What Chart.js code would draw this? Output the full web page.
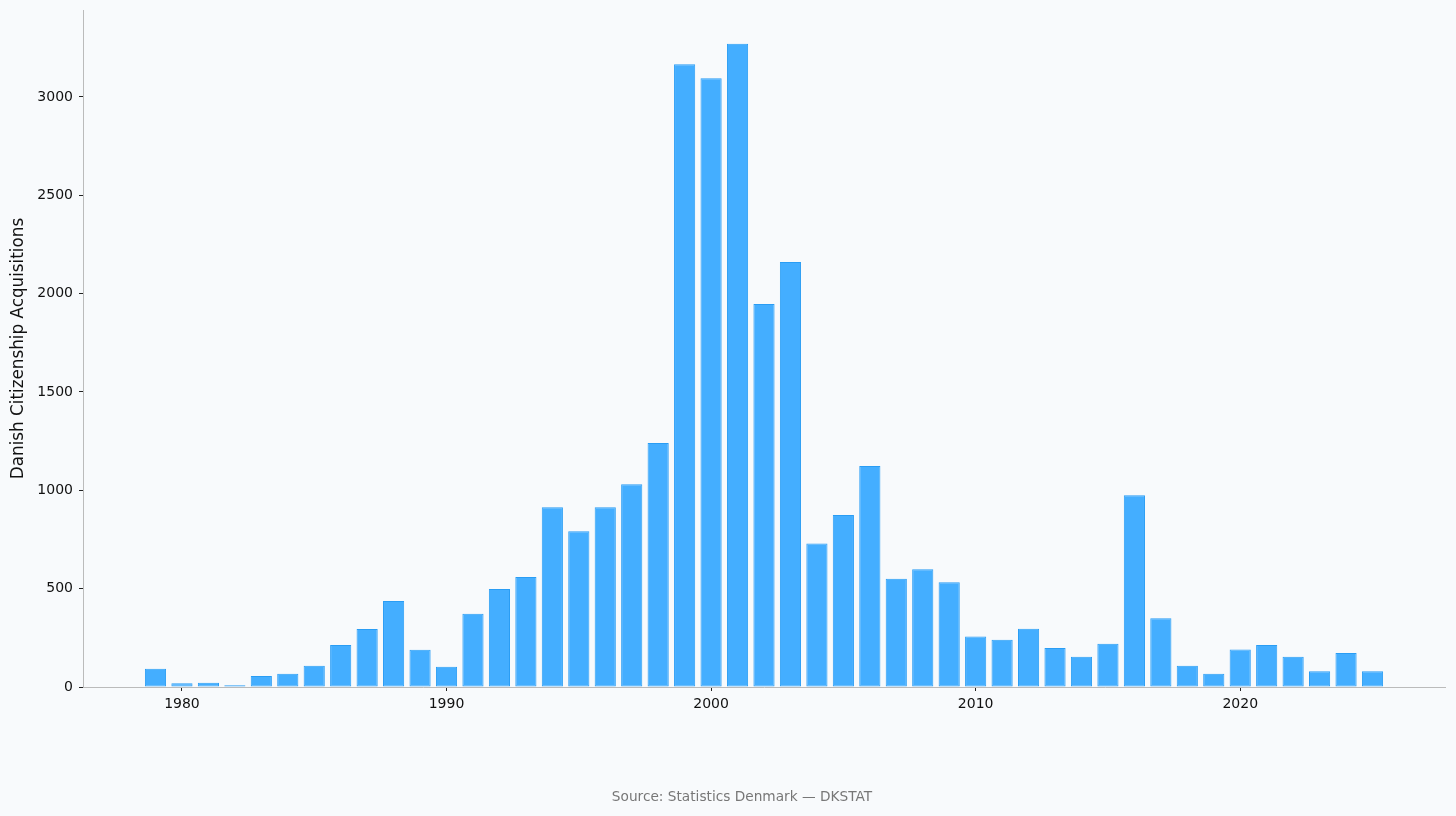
<!DOCTYPE html>
<html>
<head>
<meta charset="utf-8">
<title>Danish Citizenship Acquisitions</title>
<script src="https://cdn.jsdelivr.net/npm/chart.js@4.4.1/dist/chart.umd.min.js"></script>
<style>
  html, body { margin: 0; padding: 0; background: #f8fafc; }
  #wrap { width: 1456px; height: 816px; position: relative; }
</style>
</head>
<body>
<div id="wrap"><canvas id="citizenChart" width="1456" height="816"></canvas></div>
<script>
// data
const years = [1979, 1980, 1981, 1982, 1983, 1984, 1985, 1986, 1987, 1988,
               1989, 1990, 1991, 1992, 1993, 1994, 1995, 1996, 1997, 1998,
               1999, 2000, 2001, 2002, 2003, 2004, 2005, 2006, 2007, 2008,
               2009, 2010, 2011, 2012, 2013, 2014, 2015, 2016, 2017, 2018,
               2019, 2020, 2021, 2022, 2023, 2024, 2025];
const acquisitions = [93, 19, 22, 9, 56, 68, 108, 213, 295, 437,
                      190, 103, 372, 498, 559, 914, 792, 914, 1031, 1240,
                      3166, 3095, 3271, 1947, 2161, 730, 874, 1123, 550, 599,
                      533, 257, 240, 296, 198, 154, 220, 975, 350, 108,
                      68, 191, 213, 154, 80, 173, 80];
const xTicks = [1980, 1990, 2000, 2010, 2020];
const yTicks = [0, 500, 1000, 1500, 2000, 2500, 3000];

const font = 'DejaVu Sans';

// fill background and write the source line
const pagePlugin = {
    id: 'page',
    beforeDraw(chart) {
        const c = chart.ctx;
        c.save();
        c.fillStyle = '#f8fafc';
        c.fillRect(0, 0, chart.width, chart.height);
        c.restore();
    },
    afterDraw(chart) {
        const c = chart.ctx;
        c.save();
        c.fillStyle = '#777777';
        c.font = '13.7px "' + font + '"';
        c.textAlign = 'center';
        c.textBaseline = 'middle';
        c.fillText('Source: Statistics Denmark \u2014 DKSTAT', 742, 797);
        c.restore();
    }
};

const ctx = document.getElementById('citizenChart').getContext('2d');
const citizenChart = new Chart(ctx, {
    type: 'bar',
    data: {
        datasets: [{
            data: years.map((y, i) => ({ x: y, y: acquisitions[i] })),
            backgroundColor: '#44aeff',
            borderColor: '#2a9df4',
            borderWidth: 1,
            borderSkipped: false,
            categoryPercentage: 1.0,
            barPercentage: 0.8
        }]
    },
    options: {
        responsive: false,
        animation: false,
        layout: { padding: { top: 10, right: 11, bottom: 89, left: 0 } },
        plugins: {
            legend: { display: false },
            tooltip: { enabled: false }
        },
        scales: {
            x: {
                type: 'linear',
                offset: false,
                min: 1976.26,
                max: 2027.74,
                afterFit: s => { s.height = 40; },
                afterBuildTicks: s => { s.ticks = xTicks.map(v => ({ value: v })); },
                grid: { offset: false, drawOnChartArea: false, tickLength: 4, tickColor: '#222222' },
                border: { color: '#bbbbbb', width: 1 },
                ticks: {
                    color: '#111111',
                    font: { family: font, size: 14 },
                    padding: 5,
                    maxRotation: 0,
                    callback: v => String(v)
                }
            },
            y: {
                min: 0,
                max: 3442,
                afterFit: s => { s.width = 83; s.paddingTop = 0; s.paddingBottom = 0; },
                afterBuildTicks: s => { s.ticks = yTicks.map(v => ({ value: v })); },
                grid: { drawOnChartArea: false, tickLength: 4, tickColor: '#222222' },
                border: { color: '#bbbbbb', width: 1 },
                ticks: {
                    color: '#111111',
                    font: { family: font, size: 14 },
                    padding: 6,
                    callback: v => String(v)
                },
                title: {
                    display: true,
                    text: 'Danish Citizenship Acquisitions',
                    color: '#111111',
                    font: { family: font, size: 16.8 },
                    padding: { top: 9, bottom: 0 }
                }
            }
        }
    },
    plugins: [pagePlugin]
});
</script>
</body>
</html>
